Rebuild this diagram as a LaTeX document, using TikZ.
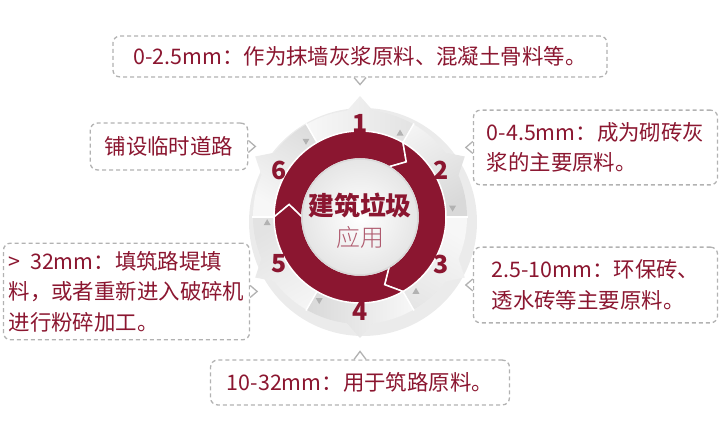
\documentclass[tikz,border=0pt]{standalone}
\usepackage{fontspec}
\setmainfont{Noto Sans CJK SC}
\newfontfamily\heavyfont{Noto Sans CJK SC Black}
\newfontfamily\lightfont{Noto Sans CJK SC Light}
\usetikzlibrary{positioning}
\definecolor{wine}{RGB}{139,22,48}
\definecolor{rose}{RGB}{175,90,110}
\begin{document}
\begin{tikzpicture}
  [x=1bp,y=1bp,every node/.style={inner sep=0pt}]
  \tikzstyle{callout} = [draw=gray!60, dash pattern=on 4bp off 3bp, line width=1.3bp,
    rounded corners=7bp, fill=white, text=wine, align=left,
    font=\fontsize{21.5}{30.5}\selectfont]
  \tikzstyle{pointer} = [draw=gray!60, line width=1.3bp]
  \tikzstyle{num} = [text=wine, font=\heavyfont\fontsize{25}{25}\selectfont]
  \useasboundingbox (-360,-229) rectangle (360,217);

  % wheel
  \fill[black,opacity=0.08] (3,-5) circle (114);
  \foreach \c/\g in {90/22,30/30,-30/22,-90/30,-150/22,150/30}
    \shade[left color=gray!6, right color=gray!\g, shading angle=\c]
      (0,0) -- ({\c+30}:107) arc[start angle=\c+30, end angle=\c+7, radius=107]
      -- (\c:121) -- ({\c-7}:107) arc[start angle=\c-7, end angle=\c-30, radius=107] -- cycle;
  \foreach \c in {120,60,0,-60,-120,180}
    \draw[white, line width=1.5bp] (0,0) -- (\c:108);
  \foreach \s in {180,60,-60}
    \fill[wine, draw=white, line width=1.5bp]
      (\s:86) arc[start angle=\s, end angle=\s-120, radius=86] -- ({\s-130}:72)
      -- ({\s-120}:58) arc[start angle=\s-120, end angle=\s, radius=58] -- ({\s-10}:72) -- cycle;
  \shade[inner color=white, outer color=gray!20] (0,0) circle (58);
  \draw[gray!30, line width=1.5bp] (0,0) circle (58);
  \foreach \a/\d in {64.5/1,5.5/-1,-53/1,-116/-1,-176.5/1,125.5/-1}
    \fill[gray!60] (\a:93) ++(-3.5,-2.5*\d) -- ++(7,0) -- ++(-3.5,6*\d) -- cycle;
  \foreach \n/\c in {1/90,2/30,3/-30,4/-90,5/-150,6/150}
    \node[num] (n\n) at (\c:94) {\n};
  \node[text=wine, font=\heavyfont\fontsize{26}{26}\selectfont] (title) at (0,12) {建筑垃圾};
  \node[text=rose, font=\lightfont\fontsize{24}{24}\selectfont, below=9bp of title] (use) {应用};

  % callouts
  \node[callout, minimum width=496, minimum height=41] (b1) at (0,160.5)
    {0-2.5mm：作为抹墙灰浆原料、混凝土骨料等。};
  \node[callout, minimum width=245, minimum height=75] (b2) at (235.5,69.5)
    {0-4.5mm：成为砌砖灰\\浆的主要原料。};
  \node[callout, minimum width=245, minimum height=76] (b3) at (235.5,-68)
    {2.5-10mm：环保砖、\\透水砖等主要原料。};
  \node[callout, minimum width=300, minimum height=45] (b4) at (0,-165.5)
    {10-32mm：用于筑路原料。};
  \node[callout, minimum width=247, minimum height=97] (b5) at (-233.5,-74.5)
    {>\ \ 32mm：填筑路堤填\\料，或者重新进入破碎机\\进行粉碎加工。};
  \node[callout, minimum width=158, minimum height=47] (b6) at (-191,70.5)
    {铺设临时道路};

  % pointers
  \fill[white] ([xshift=-6]b1.south) -- ++(6,-7) -- ++(6,7) -- cycle;
  \draw[pointer] ([xshift=-6]b1.south) -- ++(6,-7) -- ++(6,7);
  \fill[white] ([xshift=-6]b4.north) -- ++(6,8) -- ++(6,-8) -- cycle;
  \draw[pointer] ([xshift=-6]b4.north) -- ++(6,8) -- ++(6,-8);
  \fill[white] ([yshift=-6]b2.west) -- ++(-7,6) -- ++(7,6) -- cycle;
  \draw[pointer] ([yshift=-6]b2.west) -- ++(-7,6) -- ++(7,6);
  \fill[white] ([yshift=-6]b3.west) -- ++(-7,6) -- ++(7,6) -- cycle;
  \draw[pointer] ([yshift=-6]b3.west) -- ++(-7,6) -- ++(7,6);
  \fill[white] ([yshift=-6]b5.east) -- ++(7,6) -- ++(-7,6) -- cycle;
  \draw[pointer] ([yshift=-6]b5.east) -- ++(7,6) -- ++(-7,6);
  \fill[white] ([yshift=-6]b6.east) -- ++(7,6) -- ++(-7,6) -- cycle;
  \draw[pointer] ([yshift=-6]b6.east) -- ++(7,6) -- ++(-7,6);
\end{tikzpicture}
\end{document}
